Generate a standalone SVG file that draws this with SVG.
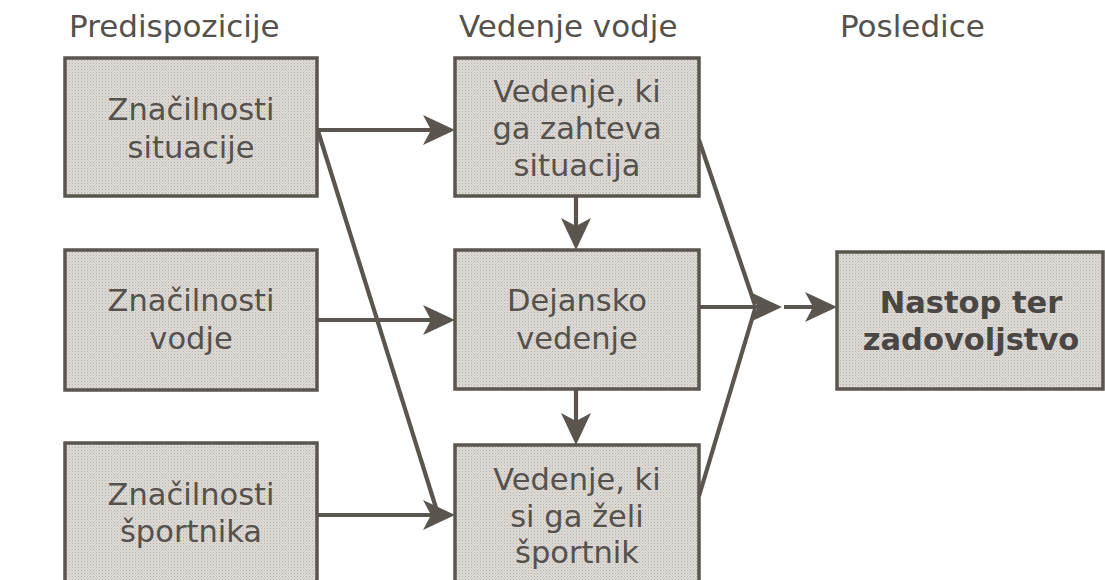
<svg xmlns="http://www.w3.org/2000/svg" width="1105" height="580" viewBox="0 0 1105 580">
<defs>
<pattern id="dots" width="3" height="3" patternUnits="userSpaceOnUse">
<rect width="3" height="3" fill="#dedbd7"/>
<rect width="1" height="1" fill="#b3afaa"/>
<rect x="1.5" y="1.5" width="1" height="1" fill="#c2beb9"/>
</pattern>
<marker id="ah" viewBox="0 -16 33 32" refX="27" refY="0" markerWidth="33" markerHeight="32" markerUnits="userSpaceOnUse" orient="auto">
<path d="M0,-15 L32,0 L0,15 L8,0 z" fill="#5a554f"/>
</marker>
<style>
.box{fill:url(#dots);stroke:#5a554f;stroke-width:3.5}
.t{font-family:"DejaVu Sans",Verdana,sans-serif;font-size:30.5px;fill:#55514d;text-anchor:middle}
.h{font-family:"DejaVu Sans",Verdana,sans-serif;font-size:31px;fill:#55514d}
.b{font-weight:bold;fill:#4a4643}
.c{fill:none;stroke:#5a554f;stroke-width:4.2}
</style>
</defs>
<rect width="1105" height="580" fill="#ffffff"/>
<g id="headers">
<text class="h" x="69" y="37">Predispozicije</text>
<text class="h" x="459" y="37">Vedenje vodje</text>
<text class="h" x="840" y="37">Posledice</text>
</g>
<g id="connectors">
<line class="c" x1="317" y1="130" x2="450" y2="130" marker-end="url(#ah)"/>
<line class="c" x1="317" y1="320" x2="450" y2="320" marker-end="url(#ah)"/>
<line class="c" x1="317" y1="515" x2="450" y2="515" marker-end="url(#ah)"/>
<line class="c" x1="318" y1="131" x2="437" y2="511"/>
<line class="c" x1="576" y1="196" x2="576" y2="245" marker-end="url(#ah)"/>
<line class="c" x1="576" y1="389" x2="576" y2="440" marker-end="url(#ah)"/>
<line class="c" x1="699" y1="140" x2="755" y2="305"/>
<line class="c" x1="699" y1="496" x2="755" y2="309"/>
<line class="c" x1="699" y1="307" x2="777" y2="307" marker-end="url(#ah)"/>
<line class="c" x1="784" y1="307" x2="832" y2="307" marker-end="url(#ah)"/>
</g>
<g id="n1">
<rect class="box" x="65" y="58" width="252" height="138"/>
<text class="t" x="191" y="120">Značilnosti</text>
<text class="t" x="191" y="158">situacije</text>
</g>
<g id="n2">
<rect class="box" x="65" y="250" width="252" height="140"/>
<text class="t" x="191" y="311">Značilnosti</text>
<text class="t" x="191" y="349">vodje</text>
</g>
<g id="n3">
<rect class="box" x="65" y="443" width="252" height="150"/>
<text class="t" x="191" y="505">Značilnosti</text>
<text class="t" x="191" y="542">športnika</text>
</g>
<g id="n4">
<rect class="box" x="455" y="58" width="244" height="138"/>
<text class="t" x="577" y="102">Vedenje, ki</text>
<text class="t" x="577" y="139">ga zahteva</text>
<text class="t" x="577" y="176">situacija</text>
</g>
<g id="n5">
<rect class="box" x="455" y="250" width="244" height="139"/>
<text class="t" x="577" y="311">Dejansko</text>
<text class="t" x="577" y="349">vedenje</text>
</g>
<g id="n6">
<rect class="box" x="455" y="445" width="244" height="150"/>
<text class="t" x="577" y="490">Vedenje, ki</text>
<text class="t" x="577" y="527">si ga želi</text>
<text class="t" x="577" y="563">športnik</text>
</g>
<g id="n7">
<rect class="box" x="837" y="252" width="266" height="137"/>
<text class="t b" x="971" y="313">Nastop ter</text>
<text class="t b" x="971" y="350">zadovoljstvo</text>
</g>
</svg>
